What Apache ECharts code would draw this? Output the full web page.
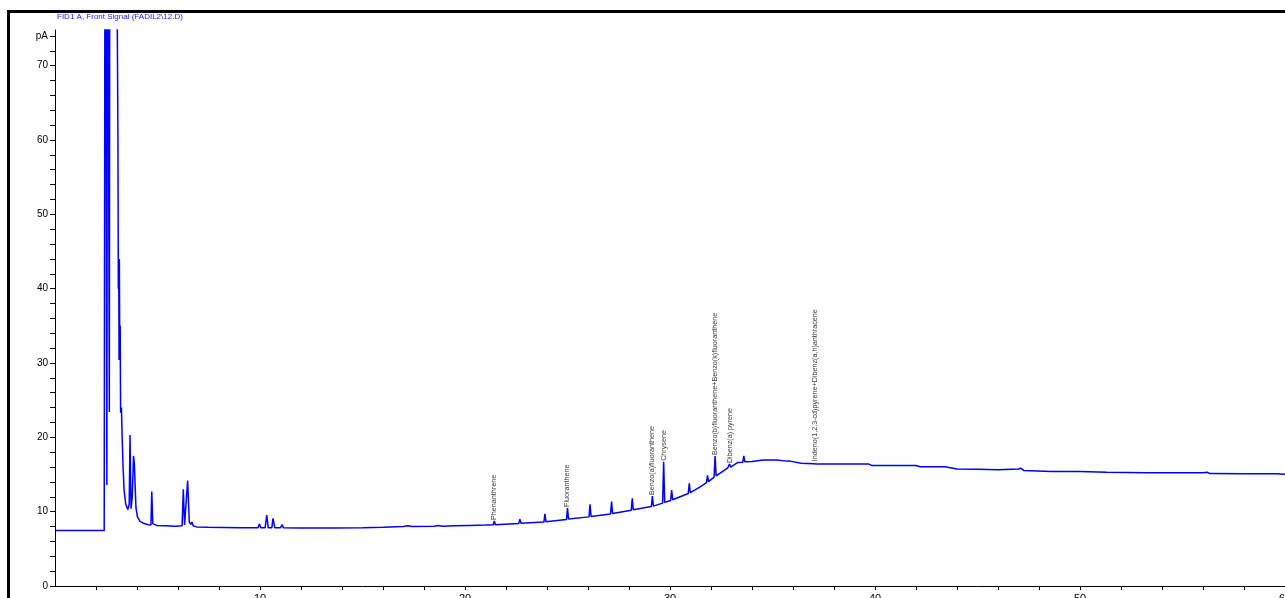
<!DOCTYPE html>
<html>
<head>
<meta charset="utf-8">
<script src="https://cdn.jsdelivr.net/npm/echarts@6/dist/echarts.min.js"></script>
<style>
html,body{margin:0;padding:0;background:#fff;overflow:hidden;}
#chart{width:1285px;height:598px;}
</style>
</head>
<body>
<div id="chart"></div>
<script>
// Retention time (min) and signal (pA)
const times = [0, 2.40, 2.43, 2.45, 2.50, 2.53, 2.56, 2.62, 2.65, 2.68, 2.95, 3.02, 3.07, 3.09, 3.11, 3.125, 3.14, 3.16, 3.18, 3.20, 3.24, 3.28, 3.32, 3.37, 3.45, 3.55, 3.62, 3.66, 3.71, 3.77, 3.83, 3.87, 3.95, 4.02, 4.15, 4.35, 4.55, 4.68, 4.72, 4.77, 4.95, 5.30, 5.37, 5.43, 5.80, 5.85, 5.90, 6.20, 6.26, 6.32, 6.38, 6.47, 6.55, 6.62, 6.68, 6.74, 6.90, 7.5, 9.0, 9.9, 9.97, 10.04, 10.25, 10.33, 10.40, 10.58, 10.63, 10.68, 10.72, 11.0, 11.08, 11.14, 12.0, 13.5, 15.0, 16.0, 17.0, 17.2, 17.4, 18.5, 18.7, 18.9, 19.5, 20.1, 20.16, 20.25, 21.0, 21.38, 21.43, 21.48, 22.62, 22.68, 22.73, 23.85, 23.90, 23.95, 24.95, 25.0, 25.05, 26.05, 26.1, 26.15, 27.1, 27.15, 27.2, 28.11, 28.16, 28.21, 29.09, 29.14, 29.19, 29.64, 29.69, 29.74, 30.03, 30.08, 30.13, 30.89, 30.94, 30.99, 31.45, 31.78, 31.83, 31.88, 32.15, 32.2, 32.25, 32.82, 32.9, 32.97, 33.1, 33.3, 33.55, 33.6, 33.65, 34.0, 34.55, 34.6, 34.65, 35.2, 35.7, 35.77, 35.85, 36.4, 37.0, 37.07, 37.14, 38.0, 39.0, 39.7, 39.75, 39.85, 40.6, 42.0, 42.05, 42.2, 43.4, 44.0, 45.0, 46.0, 47.0, 47.1, 47.25, 48.6, 50.0, 51.3, 53.2, 55.0, 56.0, 56.2, 56.35, 58.0, 59.6, 60];
const signal = [7.45, 7.45, 7.5, 120, 120, 13.6, 120, 120, 23.4, 120, 120, 120, 60, 40, 44, 30.4, 44, 30.5, 35, 23.3, 24, 19.6, 16, 12.9, 11, 10.3, 11, 20.3, 10.4, 12, 17.5, 16.5, 10.5, 9.3, 8.7, 8.4, 8.25, 8.2, 12.7, 8.4, 8.15, 8.1, 8.35, 8.1, 8.05, 8.2, 8.05, 8.1, 13.0, 8.2, 8.4, 14.2, 8.6, 8.3, 8.6, 8.1, 7.95, 7.9, 7.85, 7.85, 8.35, 7.85, 7.85, 9.55, 7.85, 7.85, 9.1, 9.0, 7.85, 7.85, 8.25, 7.85, 7.8, 7.8, 7.85, 7.9, 8.0, 8.1, 8.0, 8.05, 8.15, 8.05, 8.1, 8.15, 8.4, 8.15, 8.2, 8.25, 8.75, 8.25, 8.4, 9.0, 8.45, 8.6, 9.7, 8.65, 8.95, 10.5, 9.0, 9.3, 11.0, 9.35, 9.7, 11.35, 9.75, 10.2, 11.8, 10.25, 10.7, 12.1, 10.75, 11.15, 16.7, 11.25, 11.5, 12.9, 11.6, 12.45, 13.8, 12.55, 13.3, 13.9, 14.9, 14.05, 14.65, 17.5, 14.8, 15.9, 16.4, 16.0, 16.25, 16.6, 16.65, 17.5, 16.7, 16.75, 16.95, 17.2, 16.95, 16.95, 16.8, 17.05, 16.8, 16.5, 16.45, 16.65, 16.4, 16.4, 16.4, 16.4, 16.5, 16.2, 16.2, 16.2, 16.3, 16.05, 16.05, 15.75, 15.7, 15.65, 15.75, 15.85, 15.55, 15.4, 15.4, 15.3, 15.25, 15.25, 15.25, 15.3, 15.12, 15.1, 15.1, 15.05];

// Peak annotations
const peakNames = ['Phenanthrene', 'Fluoranthene', 'Benzo(a)fluoranthene', 'Chrysene', 'Benzo(b)fluoranthene+Benzo(k)fluoranthene', 'Dibenz(a) pyrene', 'Indeno(1,2,3-cd)pyrene+Dibenz(a,h)anthracene'];
const peakTimes = [21.43, 25.0, 29.14, 29.69, 32.2, 32.95, 37.07];
const peakHeights = [8.75, 10.5, 12.1, 16.7, 17.5, 16.4, 16.65];

const yLabelValues = [0, 10, 20, 30, 40, 50, 60, 70];
const xLabelValues = [10, 20, 30, 40, 50, 60];
const titleText = 'FID1 A, Front Signal (FADIL2\\12.D)';
const yUnit = 'pA';

const FONT = '"Liberation Sans", Arial, sans-serif';

const lineData = times.map((t, i) => [t, signal[i]]);
const labelData = peakTimes.map((t, i) => ({ value: [t, peakHeights[i]], name: peakNames[i] }));

const chart = echarts.init(document.getElementById('chart'), null, { renderer: 'canvas' });
chart.setOption({
  animation: false,
  backgroundColor: '#ffffff',
  title: {
    text: titleText,
    left: 57, top: 13, padding: 0,
    textStyle: { fontFamily: FONT, fontSize: 8, fontWeight: 'normal', color: '#1a1aff' }
  },
  grid: { left: 55, top: 30, right: 0, bottom: 12, containLabel: false, outerBoundsMode: 'none' },
  xAxis: {
    type: 'value', min: 0, max: 60, interval: 2,
    axisLine: { show: true, lineStyle: { color: '#000', width: 1 } },
    axisTick: { show: true, inside: false, length: 4, lineStyle: { color: '#000' } },
    splitLine: { show: false },
    axisLabel: {
      margin: 7, fontFamily: FONT, fontSize: 11, color: '#000',
      formatter: v => xLabelValues.includes(v) ? String(v) : '',
      showMaxLabel: true, showMinLabel: false, hideOverlap: false
    }
  },
  yAxis: {
    type: 'value', min: 0, max: 74.8, interval: 2,
    axisLine: { show: true, lineStyle: { color: '#000', width: 1 } },
    axisTick: { show: true, inside: false, length: 5, lineStyle: { color: '#000' } },
    splitLine: { show: false },
    axisLabel: {
      margin: 7, fontFamily: FONT, fontSize: 10, color: '#000',
      formatter: v => v === 74 ? yUnit : (yLabelValues.includes(v) ? String(v) : ''),
      showMaxLabel: false
    }
  },
  series: [
    {
      type: 'line', data: lineData, showSymbol: false, symbol: 'none',
      lineStyle: { color: '#0000ff', width: 1.5 }, clip: true, z: 2
    },
    {
      type: 'scatter', data: labelData, symbolSize: 0, silent: true, z: 3,
      label: {
        show: true, formatter: p => p.name, position: 'top', distance: 3,
        rotate: 90, align: 'left', verticalAlign: 'middle', offset: [-2, 0],
        fontFamily: FONT, fontSize: 7.2, color: '#000'
      }
    }
  ],
  graphic: [
    { type: 'rect', shape: { x: 8.5, y: 11.5, width: 1300, height: 620 }, style: { fill: null, stroke: '#000', lineWidth: 3 }, z: 10, silent: true }
  ]
});
</script>
</body>
</html>
